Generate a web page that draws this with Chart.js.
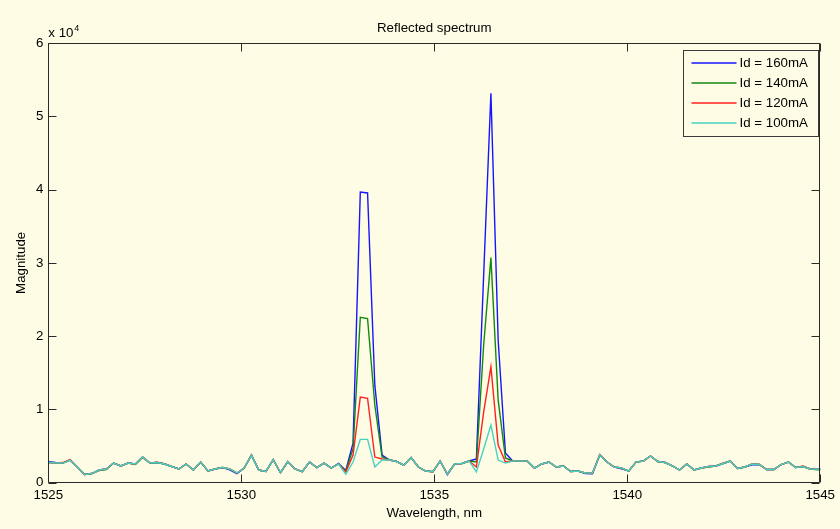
<!DOCTYPE html>
<html>
<head>
<meta charset="utf-8">
<script src="https://cdn.jsdelivr.net/npm/chart.js@4"></script>
<style>
  html, body { margin: 0; padding: 0; background: #fefce5; }
  canvas { display: block; }
</style>
</head>
<body>
<canvas id="spectrum" width="840" height="529"></canvas>
<script>
// === Data ===
const wavelength = [
  1525.000, 1525.188, 1525.376, 1525.564, 1525.752, 1525.940, 1526.128, 1526.316, 1526.504, 1526.692,
  1526.880, 1527.068, 1527.256, 1527.444, 1527.632, 1527.820, 1528.008, 1528.196, 1528.384, 1528.572,
  1528.760, 1528.948, 1529.136, 1529.324, 1529.512, 1529.700, 1529.888, 1530.076, 1530.264, 1530.452,
  1530.640, 1530.828, 1531.016, 1531.204, 1531.392, 1531.580, 1531.768, 1531.956, 1532.144, 1532.332,
  1532.520, 1532.708, 1532.896, 1533.084, 1533.272, 1533.460, 1533.648, 1533.836, 1534.024, 1534.212,
  1534.400, 1534.588, 1534.776, 1534.964, 1535.152, 1535.340, 1535.528, 1535.716, 1535.904, 1536.092,
  1536.280, 1536.468, 1536.656, 1536.844, 1537.032, 1537.220, 1537.408, 1537.596, 1537.784, 1537.972,
  1538.160, 1538.348, 1538.536, 1538.724, 1538.912, 1539.100, 1539.288, 1539.476, 1539.664, 1539.852,
  1540.040, 1540.228, 1540.416, 1540.604, 1540.792, 1540.980, 1541.168, 1541.356, 1541.544, 1541.732,
  1541.920, 1542.108, 1542.296, 1542.484, 1542.672, 1542.860, 1543.048, 1543.236, 1543.424, 1543.612,
  1543.800, 1543.988, 1544.176, 1544.364, 1544.552, 1544.740, 1544.928, 1545.116
];

const id160 = [
  2850, 2750, 2680, 3090, 2140, 1120, 1250, 1730, 1870, 2680,
  2280, 2680, 2550, 3500, 2680, 2750, 2550, 2210, 1870, 2550,
  1730, 2820, 1590, 1870, 2070, 1750, 1220, 2000, 3770, 1730,
  1530, 3160, 1360, 2890, 1870, 1500, 2820, 2070, 2680, 2000,
  2650, 1660, 5400, 39650, 39540, 13310, 3770, 3090, 2890, 2410,
  3430, 2140, 1590, 1500, 2960, 1100, 2550, 2620, 2960, 3230,
  28300, 53130, 19440, 4050, 2960, 2960, 2960, 2000, 2550, 2820,
  2140, 2280, 1530, 1590, 1250, 1220, 3770, 2820, 2140, 1900,
  1590, 2820, 2960, 3640, 2890, 2750, 2280, 1730, 2550, 1730,
  2000, 2210, 2280, 2620, 2960, 1930, 2140, 2450, 2480, 1800,
  1800, 2480, 2820, 2070, 2210, 1870, 1830, 1830
];

const id140 = [
  2750, 2680, 2680, 3090, 2140, 1120, 1250, 1650, 1790, 2680,
  2280, 2680, 2480, 3450, 2680, 2750, 2550, 2210, 1870, 2550,
  1730, 2820, 1590, 1870, 2070, 1870, 1320, 2000, 3770, 1730,
  1530, 3160, 1360, 2890, 1870, 1500, 2820, 2070, 2680, 2000,
  2550, 1600, 4600, 22580, 22400, 10590, 3500, 3150, 2890, 2410,
  3430, 2140, 1590, 1500, 2960, 1190, 2550, 2620, 2960, 2820,
  18760, 30710, 11270, 3370, 2960, 2960, 2960, 2000, 2550, 2820,
  2140, 2280, 1530, 1590, 1320, 1320, 3770, 2820, 2140, 2000,
  1590, 2820, 2960, 3640, 2890, 2750, 2280, 1730, 2550, 1730,
  2000, 2150, 2280, 2620, 2960, 1930, 2140, 2550, 2480, 1800,
  1800, 2480, 2820, 2070, 2210, 1870, 1760, 1760
];

const id120 = [
  2750, 2680, 2750, 3150, 2140, 1120, 1250, 1730, 1870, 2680,
  2280, 2680, 2550, 3500, 2680, 2800, 2600, 2210, 1870, 2550,
  1730, 2820, 1590, 1870, 2070, 1870, 1320, 2000, 3820, 1730,
  1530, 3160, 1360, 2890, 1870, 1500, 2820, 2070, 2680, 2000,
  2550, 1450, 3770, 11680, 11500, 3500, 3230, 3090, 2890, 2410,
  3430, 2140, 1590, 1500, 2960, 1190, 2550, 2620, 2960, 2140,
  9630, 15800, 5140, 2820, 2960, 2960, 2960, 2000, 2550, 2820,
  2140, 2280, 1530, 1590, 1320, 1320, 3830, 2820, 2140, 2000,
  1590, 2820, 2960, 3640, 2890, 2750, 2280, 1730, 2550, 1730,
  2000, 2210, 2280, 2680, 2960, 1930, 2140, 2550, 2480, 1800,
  1800, 2480, 2820, 2070, 2280, 1870, 1830, 1830
];

const id100 = [
  2750, 2680, 2680, 3090, 2140, 1120, 1250, 1730, 1870, 2680,
  2280, 2680, 2550, 3500, 2680, 2750, 2550, 2210, 1870, 2550,
  1730, 2820, 1590, 1870, 2070, 1870, 1320, 2000, 3770, 1730,
  1530, 3160, 1360, 2890, 1870, 1500, 2820, 2070, 2680, 2000,
  2550, 1150, 2820, 5910, 5910, 2140, 3090, 3090, 2890, 2410,
  3430, 2140, 1590, 1500, 2960, 1190, 2550, 2620, 2960, 1460,
  4590, 7860, 3090, 2680, 2960, 2960, 2960, 2000, 2550, 2820,
  2140, 2280, 1530, 1590, 1320, 1320, 3770, 2820, 2140, 2000,
  1590, 2820, 2960, 3640, 2890, 2750, 2280, 1730, 2550, 1730,
  2000, 2210, 2280, 2620, 2960, 1930, 2140, 2550, 2480, 1800,
  1800, 2480, 2820, 2070, 2210, 1870, 1830, 1830
];

const seriesLabels = ['Id = 160mA', 'Id = 140mA', 'Id = 120mA', 'Id = 100mA'];
const seriesColors = ['#1515ff', '#108a10', '#ff2020', '#45d2c0'];
const seriesValues = [id160, id140, id120, id100];

const xTicks = [1525, 1530, 1535, 1540, 1545];
const yTicks = [0, 10000, 20000, 30000, 40000, 50000, 60000];

// === Styles ===
const FONT = '"Liberation Sans", Arial, sans-serif';
const FONT_SIZE = 13.3;
const BG = '#fefce5';
const AXIS = '#2a2a2a';

// === Helpers ===
function toPoints(values) {
    return wavelength.map((w, i) => ({ x: w, y: values[i] }));
}

// axes box, inward ticks, title, exponent label and legend (MATLAB look)
const matlabDecor = {
    id: 'matlabDecor',
    afterDraw(chart) {
        const { ctx, chartArea: a, scales: { x, y } } = chart;
        const L = Math.round(a.left) + 0.5, R = Math.round(a.right) - 0.5;
        const T = Math.round(a.top) + 0.5, B = Math.round(a.bottom) - 0.5;
        ctx.save();
        ctx.strokeStyle = AXIS;
        ctx.lineWidth = 1;
        ctx.beginPath();
        ctx.rect(L, T, R - L, B - T);
        xTicks.forEach(v => {
            const p = Math.round(x.getPixelForValue(v)) + 0.5;
            ctx.moveTo(p, B); ctx.lineTo(p, B - 8);
            ctx.moveTo(p, T); ctx.lineTo(p, T + 8);
        });
        yTicks.forEach(v => {
            const p = Math.round(y.getPixelForValue(v)) + 0.5;
            ctx.moveTo(L, p); ctx.lineTo(L + 8, p);
            ctx.moveTo(R, p); ctx.lineTo(R - 8, p);
        });
        ctx.stroke();

        // title
        ctx.fillStyle = '#000';
        ctx.font = FONT_SIZE + 'px ' + FONT;
        ctx.textAlign = 'center';
        ctx.textBaseline = 'middle';
        ctx.fillText('Reflected spectrum', (a.left + a.right) / 2, 28);

        // exponent
        ctx.textAlign = 'left';
        ctx.textBaseline = 'alphabetic';
        ctx.fillText('x 10', a.left, 37);
        ctx.font = '9px ' + FONT;
        ctx.fillText('4', a.left + 26, 31);

        // legend
        const lx = 683.5, ly = 50.5, lw = 135, lh = 86;
        ctx.fillStyle = BG;
        ctx.fillRect(lx, ly, lw, lh);
        ctx.strokeStyle = '#3a3a3a';
        ctx.lineWidth = 1;
        ctx.strokeRect(lx, ly, lw, lh);
        ctx.font = FONT_SIZE + 'px ' + FONT;
        ctx.textBaseline = 'middle';
        seriesLabels.forEach((label, i) => {
            const ry = Math.round(ly + 12 + i * 20);
            ctx.strokeStyle = seriesColors[i];
            ctx.lineWidth = 1.5;
            ctx.beginPath();
            ctx.moveTo(lx + 8, ry);
            ctx.lineTo(lx + 53, ry);
            ctx.stroke();
            ctx.fillStyle = '#000';
            ctx.fillText(label, lx + 56, ry);
        });
        ctx.restore();
    }
};

// === Chart ===
const datasets = seriesValues.map((vals, i) => ({
    label: seriesLabels[i],
    data: toPoints(vals),
    borderColor: seriesColors[i],
    backgroundColor: seriesColors[i],
    borderWidth: 1.4,
    pointRadius: 0,
    tension: 0,
    fill: false,
    order: seriesValues.length - i // last series drawn on top, like MATLAB
}));

new Chart(document.getElementById('spectrum'), {
    type: 'line',
    data: { datasets: datasets },
    options: {
        responsive: false,
        animation: false,
        devicePixelRatio: 1,
        layout: { padding: { left: 0, right: 14.7, top: 43, bottom: 0 } },
        plugins: {
            legend: { display: false },
            title: { display: false },
            tooltip: { enabled: false }
        },
        scales: {
            x: {
                type: 'linear',
                min: 1525,
                max: 1545,
                afterBuildTicks: s => { s.ticks = xTicks.map(v => ({ value: v })); },
                afterFit: s => { s.height = 46.3; },
                ticks: {
                    color: '#000',
                    padding: 5,
                    maxRotation: 0,
                    font: { family: FONT, size: FONT_SIZE },
                    callback: v => String(v)
                },
                grid: { display: false, drawTicks: false },
                border: { display: false },
                title: {
                    display: true,
                    text: 'Wavelength, nm',
                    color: '#000',
                    padding: { top: 0, bottom: 8 },
                    font: { family: FONT, size: FONT_SIZE }
                }
            },
            y: {
                type: 'linear',
                min: 0,
                max: 60000,
                afterBuildTicks: s => { s.ticks = yTicks.map(v => ({ value: v })); },
                afterFit: s => { s.width = 48.3; },
                ticks: {
                    color: '#000',
                    padding: 5,
                    font: { family: FONT, size: FONT_SIZE },
                    callback: v => String(v / 10000)
                },
                grid: { display: false, drawTicks: false },
                border: { display: false },
                title: {
                    display: true,
                    text: 'Magnitude',
                    color: '#000',
                    padding: { top: 13, bottom: 0 },
                    font: { family: FONT, size: FONT_SIZE }
                }
            }
        }
    },
    plugins: [matlabDecor]
});
</script>
</body>
</html>
